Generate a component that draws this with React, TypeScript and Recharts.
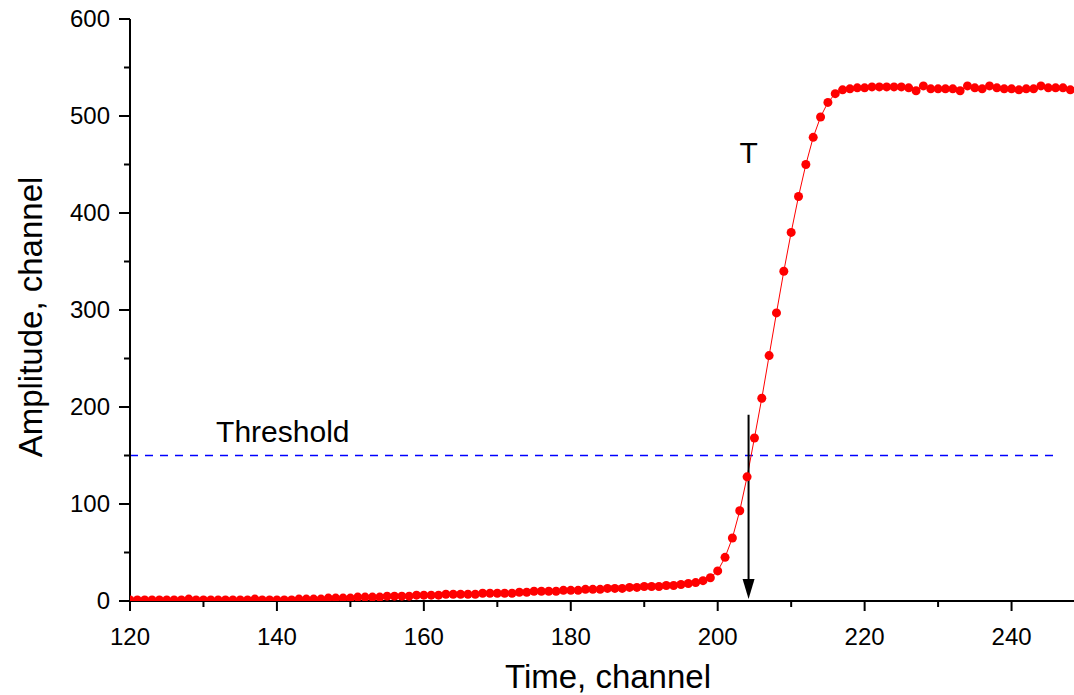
import React from 'react';
import { LineChart, Line, XAxis, YAxis, ReferenceLine, ReferenceDot } from 'recharts';

const channels = [
  120, 121, 122, 123, 124, 125, 126, 127, 128, 129,
  130, 131, 132, 133, 134, 135, 136, 137, 138, 139,
  140, 141, 142, 143, 144, 145, 146, 147, 148, 149,
  150, 151, 152, 153, 154, 155, 156, 157, 158, 159,
  160, 161, 162, 163, 164, 165, 166, 167, 168, 169,
  170, 171, 172, 173, 174, 175, 176, 177, 178, 179,
  180, 181, 182, 183, 184, 185, 186, 187, 188, 189,
  190, 191, 192, 193, 194, 195, 196, 197, 198, 199,
  200, 201, 202, 203, 204, 205, 206, 207, 208, 209,
  210, 211, 212, 213, 214, 215, 216, 217, 218, 219,
  220, 221, 222, 223, 224, 225, 226, 227, 228, 229,
  230, 231, 232, 233, 234, 235, 236, 237, 238, 239,
  240, 241, 242, 243, 244, 245, 246, 247, 248,
];

const amplitudes = [
  1, 1, 1, 1, 1, 1, 1, 1, 2, 1,
  1, 1, 1, 1, 1, 1, 1, 2, 1, 1,
  1, 1, 1, 2, 2, 2, 2, 3, 3, 3,
  3, 4, 4, 4, 4, 5, 5, 5, 5, 6,
  6, 6, 6, 7, 7, 7, 7, 7, 8, 8,
  8, 8, 8, 9, 9, 10, 10, 10, 10, 11,
  11, 11, 12, 12, 12, 13, 13, 13, 14, 14,
  15, 15, 15, 16, 16, 17, 18, 19, 21, 24,
  31, 45, 65, 93, 128, 168, 209, 253, 297, 340,
  380, 417, 450, 478, 499, 514, 523, 527, 528, 529,
  529, 530, 530, 530, 530, 530, 529, 526, 531, 528,
  528, 528, 528, 526, 531, 529, 528, 531, 529, 528,
  528, 527, 528, 528, 531, 529, 529, 529, 527,
];

const xTicks = [120, 130, 140, 150, 160, 170, 180, 190, 200, 210, 220, 230, 240];
const xLabelTicks = [120, 140, 160, 180, 200, 220, 240];
const yTicks = [0, 50, 100, 150, 200, 250, 300, 350, 400, 450, 500, 550, 600];
const yLabelTicks = [0, 100, 200, 300, 400, 500, 600];

const thresholdValue = 150;
const thresholdEnd = 246.5;
const triggerTime = 204.2;
const arrowTop = 192;
const tLabelY = 462;
const thresholdLabelPos = { x: 140.8, y: 164 };

const data = channels.map((c, i) => ({ t: c, a: amplitudes[i] }));

const FONT = '"Liberation Sans", Arial, sans-serif';

const XTick = (props: any) => {
  const { x, y, payload } = props;
  const major = xLabelTicks.includes(payload.value);
  return (
    <g>
      <line x1={x} x2={x} y1={y} y2={y + (major ? 10 : 6)} stroke="#000" strokeWidth={2} />
      {major && (
        <text x={x} y={y + 44} textAnchor="middle" fontSize={24} fontFamily={FONT} fill="#000">
          {payload.value}
        </text>
      )}
    </g>
  );
};

const YTick = (props: any) => {
  const { x, y, payload } = props;
  const major = yLabelTicks.includes(payload.value);
  return (
    <g>
      <line x1={x} x2={x - (major ? 11 : 6)} y1={y} y2={y} stroke="#000" strokeWidth={2} />
      {major && (
        <text x={x - 20} y={y + 8} textAnchor="end" fontSize={24} fontFamily={FONT} fill="#000">
          {payload.value}
        </text>
      )}
    </g>
  );
};

const XTitle = (props: any) => {
  const vb = props.viewBox;
  return (
    <text x={vb.x + vb.width / 2 + 6} y={vb.y + 87} textAnchor="middle" fontSize={33} fontFamily={FONT} fill="#000">
      Time, channel
    </text>
  );
};

const YTitle = (props: any) => {
  const vb = props.viewBox;
  const cx = vb.x + 42;
  const cy = vb.y + vb.height / 2 + 7;
  return (
    <text x={cx} y={cy} transform={`rotate(-90 ${cx} ${cy})`} textAnchor="middle" fontSize={33} fontFamily={FONT} fill="#000">
      Amplitude, channel
    </text>
  );
};

const ArrowHead = (props: any) => {
  const { cx, cy } = props;
  return <polygon points={`${cx},${cy - 2} ${cx - 6},${cy - 22} ${cx + 6},${cy - 22}`} fill="#000" />;
};

const TText = (props: any) => {
  const { cx, cy } = props;
  return (
    <text x={cx} y={cy} textAnchor="middle" dominantBaseline="central" fontSize={30} fontFamily={FONT} fill="#000">
      T
    </text>
  );
};

const ThresholdText = (props: any) => {
  const { cx, cy } = props;
  return (
    <text x={cx} y={cy} textAnchor="middle" fontSize={30} fontFamily={FONT} fill="#000">
      Threshold
    </text>
  );
};

export default function App() {
  return (
    <div style={{ position: 'absolute', left: 0, top: 0, width: 1074, height: 695, background: '#fff' }}>
      <LineChart width={1074} height={695} data={data} margin={{ top: 19, right: 0, bottom: 0, left: 0 }}>
        <XAxis
          dataKey="t"
          type="number"
          domain={[120, 248.5]}
          ticks={xTicks}
          interval={0}
          height={94}
          tickSize={0}
          tickMargin={0}
          tickLine={false}
          tick={<XTick />}
          axisLine={{ stroke: '#000', strokeWidth: 2 }}
          allowDataOverflow
          label={<XTitle />}
        />
        <YAxis
          type="number"
          domain={[0, 600]}
          ticks={yTicks}
          interval={0}
          width={130}
          tickSize={0}
          tickMargin={0}
          tickLine={false}
          tick={<YTick />}
          axisLine={{ stroke: '#000', strokeWidth: 2 }}
          allowDataOverflow
          label={<YTitle />}
        />
        <ReferenceLine
          segment={[{ x: 120, y: thresholdValue }, { x: thresholdEnd, y: thresholdValue }]}
          stroke="#0000ff"
          strokeWidth={1.5}
          strokeDasharray="8 7"
        />
        <Line
          dataKey="a"
          stroke="#ff0000"
          strokeWidth={1}
          dot={{ r: 4.5, fill: '#ff0000', stroke: 'none' }}
          isAnimationActive={false}
        />
        <ReferenceLine
          segment={[{ x: triggerTime, y: arrowTop }, { x: triggerTime, y: 10 }]}
          stroke="#000"
          strokeWidth={2}
        />
        <ReferenceDot x={triggerTime} y={0} r={0} shape={<ArrowHead />} ifOverflow="visible" />
        <ReferenceDot x={triggerTime} y={tLabelY} r={0} shape={<TText />} ifOverflow="visible" />
        <ReferenceDot x={thresholdLabelPos.x} y={thresholdLabelPos.y} r={0} shape={<ThresholdText />} ifOverflow="visible" />
      </LineChart>
    </div>
  );
}
